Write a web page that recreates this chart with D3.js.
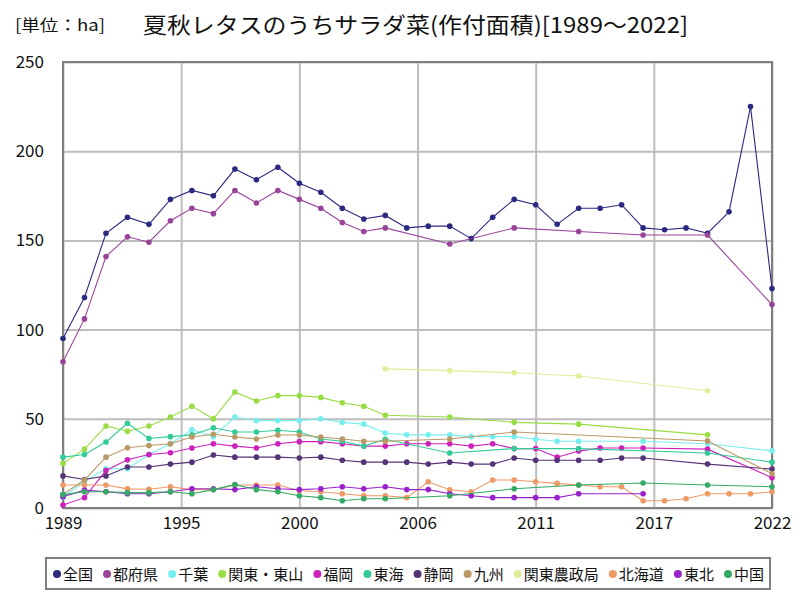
<!DOCTYPE html>
<html><head><meta charset="utf-8">
<script src="https://cdn.jsdelivr.net/npm/d3@7/dist/d3.min.js"></script>
<style>
body{margin:0;background:#fff;}
svg{display:block;}
text{font-family:"Noto Sans CJK JP","Noto Sans",sans-serif;fill:#111;}
</style></head>
<body><svg id="chart" width="800" height="600"></svg>
<script>
const years = d3.range(1989, 2023);
const unitLabel = "[単位：ha]";
const titleText = "夏秋レタスのうちサラダ菜(作付面積)[1989～2022]";
const xTickValues = [1989, 1994.5, 2000, 2005.5, 2011, 2016.5, 2022];
const xTickLabels = ["1989", "1995", "2000", "2006", "2011", "2017", "2022"];
const yTickValues = [0, 50, 100, 150, 200, 250];
const seriesNames = ["全国","都府県","千葉","関東・東山","福岡","東海","静岡","九州","関東農政局","北海道","東北","中国"];
const seriesColors = ["#2b2a80","#994499","#77eeee","#99dd44","#cc22bb","#33cc99","#553377","#bb9966","#ddee99","#ee9966","#9922cc","#33aa66"];
const N = null;
// values by year 1989..2022
const zenkoku   = [95,118,154,163,159,173,178,175,190,184,191,182,177,168,162,164,157,158,158,151,163,173,170,159,168,168,170,157,156,157,154,166,225,123];
const tofuken   = [82,106,141,152,149,161,168,165,178,171,178,173,168,160,155,157,N,N,148,N,N,157,N,N,155,N,N,153,N,N,153,N,N,114];
const chiba     = [6,15,22,22,30,36,44,40,51,49,49,49,50,48,47,42,41,41,41,40,40,40,38.5,37.4,37.4,N,N,37.4,N,N,36,N,N,32];
const kantoTosan= [25,33,46,43,46,51,57,50,65,60,63,63,62,59,57,52,N,N,51,N,N,48,N,N,47,N,N,N,N,N,41,N,N,N];
const fukuoka   = [1.7,5.8,21,27,30,31,33.6,36,34.7,33.6,36,37.2,37.2,36,34.7,34.7,36,36,36,34.7,36,33.3,33.3,28.5,31.9,33.6,33.6,33.6,N,N,33,N,N,17];
const tokai     = [28.5,30,37,47.5,39,40,41,45,42.6,42.6,43.6,42.6,38.7,37.4,34.7,38.5,N,N,30.8,N,N,33.3,N,N,33.3,N,N,N,N,N,30.8,N,N,25.7];
const shizuoka  = [18,16,18,23,23,24.6,25.7,29.7,28.5,28.5,28.5,28,28.5,26.8,25.7,25.7,25.7,24.6,25.7,24.6,24.6,28,26.8,26.8,26.8,26.8,28,28,N,N,24.6,N,N,21.8];
const kyushu    = [7.7,15.7,28.5,33.8,35,36,39.8,41.3,39.8,38.7,40.9,40.9,39.8,38.7,37.4,37.4,N,N,38.7,N,N,42.6,N,N,N,N,N,N,N,N,37.6,N,N,19.2];
const kantoNosei= [N,N,N,N,N,N,N,N,N,N,N,N,N,N,N,78,N,N,77,N,N,75.8,N,N,74,N,N,N,N,N,65.7,N,N,N];
const hokkaido  = [12.9,12.9,12.9,10.7,10.5,11.9,10.3,10.3,12.9,12.9,12.9,9.7,9.1,8,6.9,6.9,5.8,14.7,10.2,9.1,15.7,15.7,14.7,13.8,12.9,11.9,11.9,4.1,4.1,5.2,8,8,8,9.1];
const tohoku    = [6.3,10,9.1,8,8,9.1,10.8,10.8,10.3,11.9,10.8,10.3,10.8,11.9,10.8,11.9,10.3,10.3,8,6.9,5.8,5.8,5.8,5.8,8,N,N,8,N,N,N,N,N,N];
const chugoku   = [7.5,9.1,9.1,8.6,8.6,9.1,8,10.3,13.1,10.3,9.1,6.9,5.8,4.1,5.2,5.2,N,N,6.9,N,N,10.8,N,N,12.9,N,N,14,N,N,12.9,N,N,11.9];
const seriesValues = [zenkoku,tofuken,chiba,kantoTosan,fukuoka,tokai,shizuoka,kyushu,kantoNosei,hokkaido,tohoku,chugoku];

const svg = d3.select("#chart");
const L = 63, R = 772, T = 62, B = 508;
const x = d3.scaleLinear().domain([1989, 2022]).range([L, R]);
const y = d3.scaleLinear().domain([0, 250]).range([B, T]);

// grid
const gx = svg.append("g").attr("transform", `translate(0,${B})`)
  .call(d3.axisBottom(x).tickValues(xTickValues).tickSize(-(B - T)).tickPadding(9)
    .tickFormat((d, i) => xTickLabels[i]));
gx.select(".domain").remove();
gx.selectAll(".tick line").attr("stroke", "#bdbdbd").attr("stroke-width", 2);
gx.selectAll(".tick text").attr("font-size", 17).attr("fill", "#111");

const gy = svg.append("g").attr("transform", `translate(${L},0)`)
  .call(d3.axisLeft(y).tickValues(yTickValues).tickSize(-(R - L)).tickPadding(19));
gy.select(".domain").remove();
gy.selectAll(".tick line").attr("stroke", "#bdbdbd").attr("stroke-width", 2);
gy.selectAll(".tick text").attr("font-size", 17).attr("fill", "#111");

// frame
svg.append("rect").attr("x", L).attr("y", T).attr("width", R - L).attr("height", B - T)
  .attr("fill", "none").attr("stroke", "#808080").attr("stroke-width", 2);

// series
seriesValues.forEach((vals, si) => {
  const pts = years.map((yr, i) => ({yr, v: vals[i]})).filter(d => d.v !== null);
  const g = svg.append("g");
  g.append("path").datum(pts)
    .attr("fill", "none").attr("stroke", seriesColors[si]).attr("stroke-width", 1.1)
    .attr("d", d3.line().x(d => x(d.yr)).y(d => y(d.v)));
  g.selectAll("circle").data(pts).join("circle")
    .attr("cx", d => x(d.yr)).attr("cy", d => y(d.v)).attr("r", 2.8)
    .attr("fill", seriesColors[si]);
});

// titles
svg.append("text").attr("x", 15).attr("y", 31).attr("font-size", 16)
  .attr("textLength", 90).attr("lengthAdjust", "spacingAndGlyphs").text(unitLabel);
svg.append("text").attr("x", 143).attr("y", 33).attr("font-size", 22)
  .attr("textLength", 545).attr("lengthAdjust", "spacingAndGlyphs").text(titleText);

// legend
const lg = svg.append("g");
const box = lg.append("rect").attr("x", 46).attr("y", 558).attr("width", 724).attr("height", 31)
  .attr("fill", "#fff").attr("stroke", "#808080").attr("stroke-width", 2);
const items = seriesNames.map((n, i) => {
  const t = lg.append("text").attr("y", 580).attr("font-size", 15).text(n);
  const c = lg.append("circle").attr("cy", 574).attr("r", 4).attr("fill", seriesColors[i]);
  return {t, c, w: t.node().getComputedTextLength()};
});
const startX = 53, endX = 764;
const totalW = d3.sum(items, d => d.w + 10);
const gap = (endX - startX - totalW) / (items.length - 1);
let cx = startX;
items.forEach(it => {
  it.c.attr("cx", cx + 4);
  it.t.attr("x", cx + 10);
  cx += it.w + 10 + gap;
});
</script></body></html>
